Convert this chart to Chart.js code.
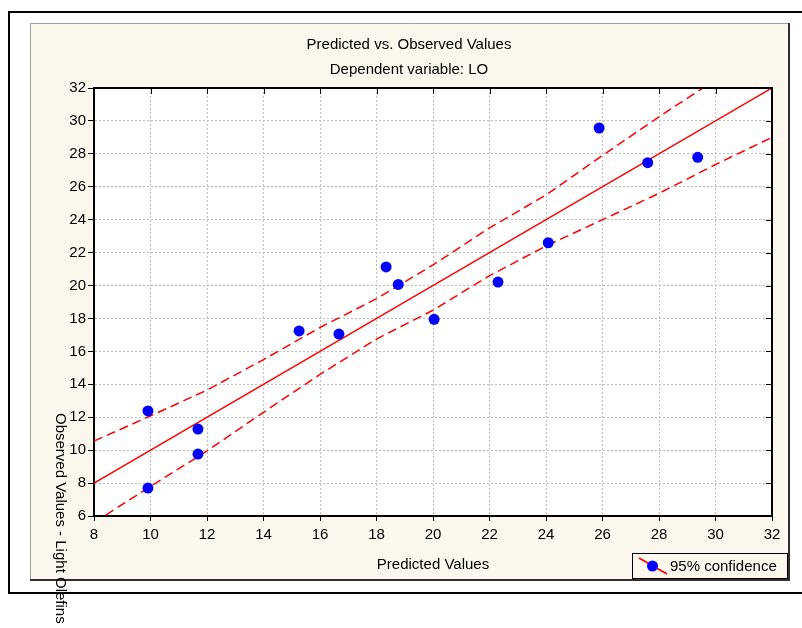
<!DOCTYPE html>
<html>
<head>
<meta charset="utf-8">
<script src="https://cdn.jsdelivr.net/npm/chart.js@4.4.0/dist/chart.umd.min.js"></script>
<style>
  html, body { margin: 0; padding: 0; background: #fff; }
  canvas { display: block; }
</style>
</head>
<body>
<canvas id="chart" width="802" height="628"></canvas>
<script>
// observed vs predicted points
var predicted = [9.91, 9.91, 11.68, 11.68, 15.26, 16.67, 18.34, 18.77, 20.04, 22.30, 24.08, 25.88, 27.60, 29.37];
var observed  = [12.38, 7.70, 11.28, 9.76, 17.24, 17.05, 21.13, 20.07, 17.95, 20.21, 22.60, 29.57, 27.46, 27.79];

// fitted line
var fitX = [8, 32];
var fitY = [8, 32];

// 95% confidence bands
var upperX = [8, 10, 12, 14, 16, 18, 20, 22, 24, 26, 28, 29.55];
var upperY = [10.55, 12.08, 13.65, 15.5, 17.45, 19.2, 21.25, 23.5, 25.5, 27.9, 30.25, 32];
var lowerX = [8, 10, 12, 14, 16, 18, 20, 22, 24, 26, 28, 30, 32];
var lowerY = [5.6, 7.8, 9.95, 12.3, 14.6, 16.75, 18.5, 20.6, 22.4, 24.0, 25.6, 27.35, 29.0];

var xTicks = [8, 10, 12, 14, 16, 18, 20, 22, 24, 26, 28, 30, 32];
var yTicks = [6, 8, 10, 12, 14, 16, 18, 20, 22, 24, 26, 28, 30, 32];

var titleLines = ['Predicted vs. Observed Values', 'Dependent variable: LO'];
var xTitle = 'Predicted Values';
var yTitle = 'Observed Values - Light Olefins';
var legendLabel = '95% confidence';

var FONT = '"Liberation Sans", Arial, sans-serif';
var CREAM = '#fcf8ee';

function pts(xs, ys) {
  return xs.map(function (x, i) { return { x: x, y: ys[i] }; });
}

// background, frames, titles, legend
var framePlugin = {
  id: 'frame',
  beforeDraw: function (chart) {
    var ctx = chart.ctx, a = chart.chartArea;
    ctx.save();
    ctx.fillStyle = '#fff';
    ctx.fillRect(0, 0, chart.width, chart.height);

    // outer frame
    ctx.strokeStyle = '#000';
    ctx.lineWidth = 2;
    ctx.strokeRect(9, 12, 810, 581);

    // cream panel
    ctx.fillStyle = CREAM;
    ctx.fillRect(30, 23, 759, 557);
    ctx.lineWidth = 1;
    ctx.strokeStyle = '#a0a0a0';
    ctx.beginPath();
    ctx.moveTo(30.5, 580); ctx.lineTo(30.5, 23.5); ctx.lineTo(789, 23.5);
    ctx.stroke();
    ctx.lineWidth = 2;
    ctx.strokeStyle = '#303030';
    ctx.beginPath();
    ctx.moveTo(789, 23); ctx.lineTo(789, 580); ctx.lineTo(30, 580);
    ctx.stroke();

    // plot area
    ctx.fillStyle = '#fff';
    ctx.fillRect(a.left, a.top, a.right - a.left, a.bottom - a.top);

    // titles
    ctx.fillStyle = '#000';
    ctx.font = '15px ' + FONT;
    ctx.textAlign = 'center';
    ctx.textBaseline = 'middle';
    ctx.fillText(titleLines[0], 409, 45);
    ctx.fillText(titleLines[1], 409, 70);
    ctx.restore();
  },
  afterDraw: function (chart) {
    var ctx = chart.ctx, a = chart.chartArea;
    var xs = chart.scales.x, ys = chart.scales.y;
    ctx.save();
    // top and right axes with inward ticks
    ctx.strokeStyle = '#000';
    ctx.lineWidth = 2;
    ctx.beginPath();
    ctx.moveTo(a.left, a.top); ctx.lineTo(a.right, a.top); ctx.lineTo(a.right, a.bottom);
    ctx.stroke();
    ctx.lineWidth = 1;
    ctx.beginPath();
    xTicks.forEach(function (v) {
      var px = Math.round(xs.getPixelForValue(v)) + 0.5;
      ctx.moveTo(px, a.top); ctx.lineTo(px, a.top + 6);
    });
    yTicks.forEach(function (v) {
      var py = Math.round(ys.getPixelForValue(v)) + 0.5;
      ctx.moveTo(a.right, py); ctx.lineTo(a.right - 6, py);
    });
    ctx.stroke();

    // y title, rotated, low on the left
    ctx.fillStyle = '#000';
    ctx.font = '15px ' + FONT;
    ctx.translate(60, 413);
    ctx.rotate(Math.PI / 2);
    ctx.textAlign = 'left';
    ctx.textBaseline = 'middle';
    ctx.fillText(yTitle, 0, 0);
    ctx.restore();

    // legend box
    ctx.save();
    ctx.fillStyle = '#303030';
    ctx.fillRect(634, 555, 156, 26);
    ctx.fillStyle = CREAM;
    ctx.fillRect(632, 553, 156, 26);
    ctx.strokeStyle = '#000';
    ctx.lineWidth = 1;
    ctx.strokeRect(632.5, 553.5, 155, 25);
    ctx.strokeStyle = '#ff0000';
    ctx.lineWidth = 1.5;
    ctx.beginPath();
    ctx.moveTo(639, 558); ctx.lineTo(667, 574);
    ctx.stroke();
    ctx.fillStyle = '#0000ff';
    ctx.beginPath();
    ctx.arc(652.5, 566, 5.5, 0, Math.PI * 2);
    ctx.fill();
    ctx.fillStyle = '#000';
    ctx.font = '15px ' + FONT;
    ctx.textAlign = 'left';
    ctx.textBaseline = 'middle';
    ctx.fillText(legendLabel, 670, 567);
    ctx.restore();
  }
};

var ctx = document.getElementById('chart');
var chart = new Chart(ctx, {
  type: 'scatter',
  data: {
    datasets: [
      {
        label: legendLabel,
        data: pts(predicted, observed),
        backgroundColor: '#0000ff',
        borderWidth: 0,
        pointRadius: 5.5,
        pointHoverRadius: 5.5
      },
      {
        label: 'fit',
        data: pts(fitX, fitY),
        showLine: true,
        borderColor: '#ff0000',
        borderWidth: 1.5,
        pointRadius: 0,
        clip: 0
      },
      {
        label: 'upper',
        data: pts(upperX, upperY),
        showLine: true,
        borderColor: '#ff0000',
        borderWidth: 1.5,
        borderDash: [9, 5],
        pointRadius: 0,
        clip: 0
      },
      {
        label: 'lower',
        data: pts(lowerX, lowerY),
        showLine: true,
        borderColor: '#ff0000',
        borderWidth: 1.5,
        borderDash: [9, 5],
        pointRadius: 0,
        clip: 0
      }
    ]
  },
  options: {
    responsive: false,
    animation: false,
    events: [],
    layout: { padding: { left: 0, top: 88, right: 30, bottom: 52 } },
    plugins: {
      legend: { display: false },
      tooltip: { enabled: false },
      title: { display: false }
    },
    scales: {
      x: {
        type: 'linear',
        min: 8,
        max: 32,
        afterBuildTicks: function (scale) {
          scale.ticks = xTicks.map(function (v) { return { value: v }; });
        },
        afterFit: function (scale) { scale.height = 60; },
        ticks: {
          color: '#000',
          font: { family: FONT, size: 15 },
          padding: 5,
          maxRotation: 0
        },
        grid: { color: '#c0c0c0', lineWidth: 1, tickLength: 5, tickColor: '#000', tickWidth: 1 },
        border: { display: true, color: '#000', width: 2, dash: [2, 2] },
        title: {
          display: true,
          text: xTitle,
          color: '#000',
          font: { family: FONT, size: 15 },
          padding: { top: 0, bottom: 2 }
        }
      },
      y: {
        type: 'linear',
        min: 6,
        max: 32,
        afterBuildTicks: function (scale) {
          scale.ticks = yTicks.map(function (v) { return { value: v }; });
        },
        afterFit: function (scale) { scale.width = 94; },
        ticks: {
          color: '#000',
          font: { family: FONT, size: 15 },
          padding: 2
        },
        grid: { color: '#c0c0c0', lineWidth: 1, tickLength: 6, tickColor: '#000', tickWidth: 1 },
        border: { display: true, color: '#000', width: 2, dash: [2, 2] }
      }
    }
  },
  plugins: [framePlugin]
});
</script>
</body>
</html>
